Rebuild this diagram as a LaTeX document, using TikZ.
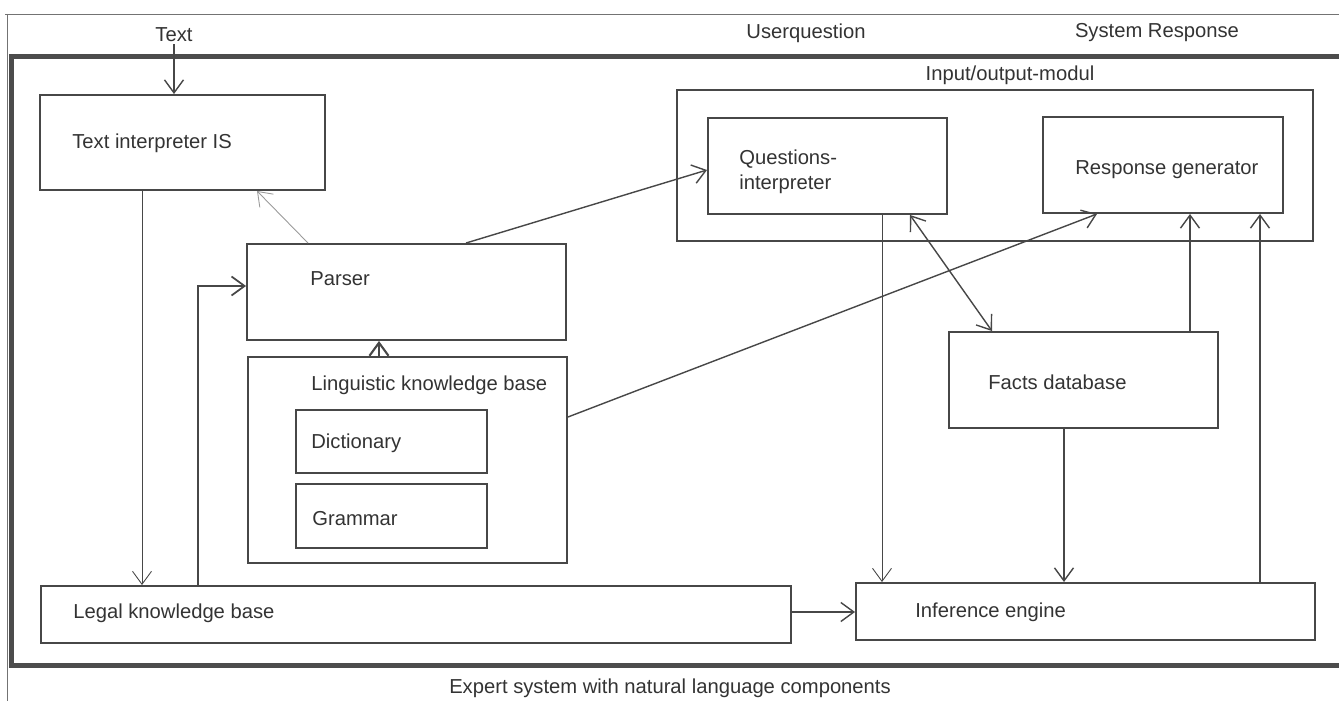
\documentclass[tikz,border=0pt]{standalone}
\usepackage{fontspec}
\setmainfont{Liberation Sans}
\usetikzlibrary{arrows.meta, fit}
\tikzset{
    box/.style={draw=black!72, line width=1.1pt, inner sep=0pt},
    boxtext/.style={font=\fontsize{11.5}{14}\selectfont, text=black!80, anchor=west, align=left, inner sep=0pt},
    toptext/.style={font=\fontsize{11.5}{14}\selectfont, text=black!80, inner sep=1pt},
    arrow/.style={draw=black!72, line width=0.8pt, -{Straight Barb[length=2.6mm, width=3.8mm]}},
    frameline/.style={draw=black!70, line width=1mm},
    thinline/.style={draw=black!55, line width=0.4pt}
}
\begin{document}
\begin{tikzpicture}[x=0.2mm, y=-0.2mm]
\useasboundingbox (0,0) rectangle (1339,701);

% Frame
\draw[thinline] (5,14) -- (1339,14);
\draw[thinline] (7,14) -- (7,701);
\draw[frameline] (1339,57) -- (11,57) -- (11,665) -- (1339,665);

% Top labels
\node[toptext] (textlbl) at (174,35) {Text};
\node[toptext] (userq) at (806,33) {Userquestion};
\node[toptext] (sysresp) at (1157,33) {System Response};

% Text interpreter
\node[box, fit={(40,95) (325,190)}] (textint) {};
\node[boxtext] (textinttxt) at (72,143) {Text interpreter IS};

% Parser
\node[box, fit={(247,244) (566,340)}] (parser) {};
\node[boxtext] (parsertxt) at (310,279) {Parser};

% Linguistic knowledge base
\node[box, fit={(248,357) (567,563)}] (lingkb) {};
\node[boxtext] (lingkbtxt) at (311,385) {Linguistic knowledge base};
\node[box, fit={(296,410) (487,473)}] (dict) {};
\node[boxtext] (dicttxt) at (311,443) {Dictionary};
\node[box, fit={(296,484) (487,548)}] (grammar) {};
\node[boxtext] (grammartxt) at (312,519) {Grammar};

% Legal knowledge base
\node[box, fit={(41,586) (791,643)}] (legalkb) {};
\node[boxtext] (legalkbtxt) at (73,613) {Legal knowledge base};

% Input/output module
\node[box, fit={(677,90) (1313,241)}] (ioframe) {};
\node[toptext] (iotxt) at (1010,75) {Input/output-modul};
\node[box, fit={(708,118) (947,214)}] (qint) {};
\node[boxtext] (qinttxt) at (739,172) {Questions-\\interpreter};
\node[box, fit={(1043,117) (1283,213)}] (respgen) {};
\node[boxtext] (respgentxt) at (1075,170) {Response generator};

% Facts database
\node[box, fit={(949,332) (1218,428)}] (facts) {};
\node[boxtext] (factstxt) at (988,382) {Facts database};

% Inference engine
\node[box, fit={(856,583) (1315,640)}] (infer) {};
\node[boxtext] (infertxt) at (915,612) {Inference engine};

% Caption
\node[toptext] (caption) at (670,688) {Expert system with natural language components};

% Arrows
\draw[arrow] (textlbl.south) -- (textint.north -| textlbl.south);
\draw[arrow, line width=0.5pt] (textint.south -| 142,0) -- (legalkb.north -| 142,0);
\draw[arrow, line width=1pt] (legalkb.north -| 198,0) |- (parser.west |- 0,286);
\draw[arrow, draw=black!40, line width=0.5pt] (parser.north -| 308,0) -- (textint.south -| 257,0);
\draw[arrow, line width=1.2pt] (lingkb.north -| 379,0) -- (parser.south -| 379,0);
\draw[arrow] (parser.north -| 466,0) -- (qint.west |- 0,170);
\draw[arrow] (lingkb.east |- 0,417) -- (respgen.south -| 1097,0);
\draw[arrow, line width=0.5pt] (qint.south -| 882,0) -- (infer.north -| 882,0);
\draw[arrow, {Straight Barb[length=2.6mm, width=3.8mm]}-{Straight Barb[length=2.6mm, width=3.8mm]}] (qint.south -| 910,0) -- (facts.north -| 992,0);
\draw[arrow] (facts.north -| 1190,0) -- (respgen.south -| 1190,0);
\draw[arrow] (facts.south -| 1064,0) -- (infer.north -| 1064,0);
\draw[arrow] (infer.north -| 1260,0) -- (respgen.south -| 1260,0);
\draw[arrow] (legalkb.east |- 0,612) -- (infer.west |- 0,612);
\end{tikzpicture}
\end{document}
